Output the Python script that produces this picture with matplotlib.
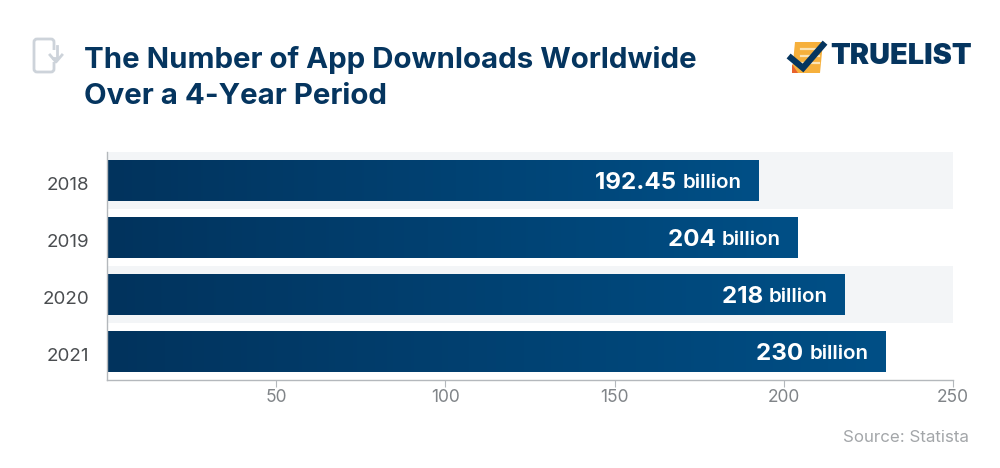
import numpy as np
import matplotlib
matplotlib.use('Agg')
import matplotlib.pyplot as plt
from matplotlib.colors import LinearSegmentedColormap
from matplotlib.patches import Polygon, Rectangle, FancyBboxPatch
from matplotlib.transforms import ScaledTranslation

years = ['2018', '2019', '2020', '2021']
values = [192.45, 204, 218, 230]
big_labels = ['192.45', '204', '218', '230']
unit = 'billion'
xticks = [50, 100, 150, 200, 250]
title = 'The Number of App Downloads Worldwide\nOver a 4-Year Period'
source = 'Source: Statista'
brand = 'TRUELIST'

NAVY = '#05355f'
FONT = 'Inter'
W, H = 1000, 468
fig = plt.figure(figsize=(W / 100, H / 100), dpi=100, facecolor='white')
ax = fig.add_axes([107 / W, 1 - 379.5 / H, 846 / W, 227.5 / H])
ax.set_xlim(0, 250)
ax.set_ylim(3.5, -0.5)

cmap = LinearSegmentedColormap.from_list('bar', ['#02335d', '#004f86'])
grad = np.linspace(0, 1, 256).reshape(1, -1)
for i, (v, big) in enumerate(zip(values, big_labels)):
    if i % 2 == 0:
        ax.axhspan(i - 0.5, i + 0.5, color='#f3f5f7', lw=0, zorder=0)
    bar = ax.barh(i, v, height=0.72, color='none', zorder=2)[0]
    im = ax.imshow(grad, extent=(0, v, i + 0.36, i - 0.36), cmap=cmap,
                   aspect='auto', zorder=2)
    im.set_clip_path(bar)
    t = ax.annotate(unit, (v, i), xytext=(-17, -3), textcoords='offset pixels',
                    ha='right', va='center', color='white', fontsize=14.8,
                    fontweight='semibold', family=FONT, zorder=3)
    ax.annotate(big + ' ', (0, 0.5), xycoords=t, ha='right', va='center',
                color='white', fontsize=17.4, fontweight='bold', family=FONT, zorder=3)
ax.set_xlim(0, 250)
ax.set_ylim(3.5, -0.5)

for s in ('top', 'right'):
    ax.spines[s].set_visible(False)
for s in ('left', 'bottom'):
    ax.spines[s].set_color('#b4b8bc')
    ax.spines[s].set_linewidth(1)
ax.set_xticks(xticks)
ax.set_yticks(range(len(years)), years)
ax.tick_params(axis='x', length=5, color='#b4b8bc', labelcolor='#808488',
               labelsize=12.5, pad=2)
ax.tick_params(axis='y', length=0, labelcolor='#4a4d50', labelsize=13.5, pad=13)
for lab in ax.get_xticklabels() + ax.get_yticklabels():
    lab.set_family(FONT)
shift = ScaledTranslation(0, -3.5 / 100, fig.dpi_scale_trans)
for lab in ax.get_yticklabels():
    lab.set_transform(lab.get_transform() + shift)

fig.text(84 / W, 1 - 78 / H, title, color=NAVY, fontsize=21.2, fontweight='bold',
         family=FONT, ha='left', va='center', linespacing=1.42)
fig.text(969 / W, 1 - 437 / H, source, color='#a3a6a9', fontsize=12.2, family=FONT,
         ha='right', va='center')
fig.text(830 / W, 1 - 57 / H, brand, color=NAVY, fontsize=20.8, fontweight='black',
         family=FONT, ha='left', va='center')

# decorative icon and logo, in pixel coordinates
deco = fig.add_axes([0, 0, 1, 1], facecolor='none')
deco.set_xlim(0, W)
deco.set_ylim(H, 0)
deco.axis('off')
GREY = '#cdd3da'
deco.add_patch(FancyBboxPatch((34, 39), 20, 33, boxstyle='round,pad=0,rounding_size=3',
                              fill=False, ec=GREY, lw=2))
deco.add_patch(Rectangle((49, 50), 10, 12, fc='white', ec='none'))
deco.plot([57, 57, 53], [46, 58, 58], color=GREY, lw=2)
deco.plot([50, 56, 62], [55, 62, 55], color=GREY, lw=2)
deco.add_patch(Polygon([[795, 42], [823, 42], [820, 73], [792, 73]], fc='#f6b03c', ec='none'))
deco.add_patch(Polygon([[792, 64], [798, 73], [792, 73]], fc='#e8622c', ec='none'))
for y in (49, 56, 63):
    deco.plot([801, 819], [y, y], color='#fbe3b4', lw=1.6)
deco.plot([791, 803, 823], [58, 68, 45], color=NAVY, lw=4.5, solid_joinstyle='miter')

fig.savefig('out.png', dpi=100)
